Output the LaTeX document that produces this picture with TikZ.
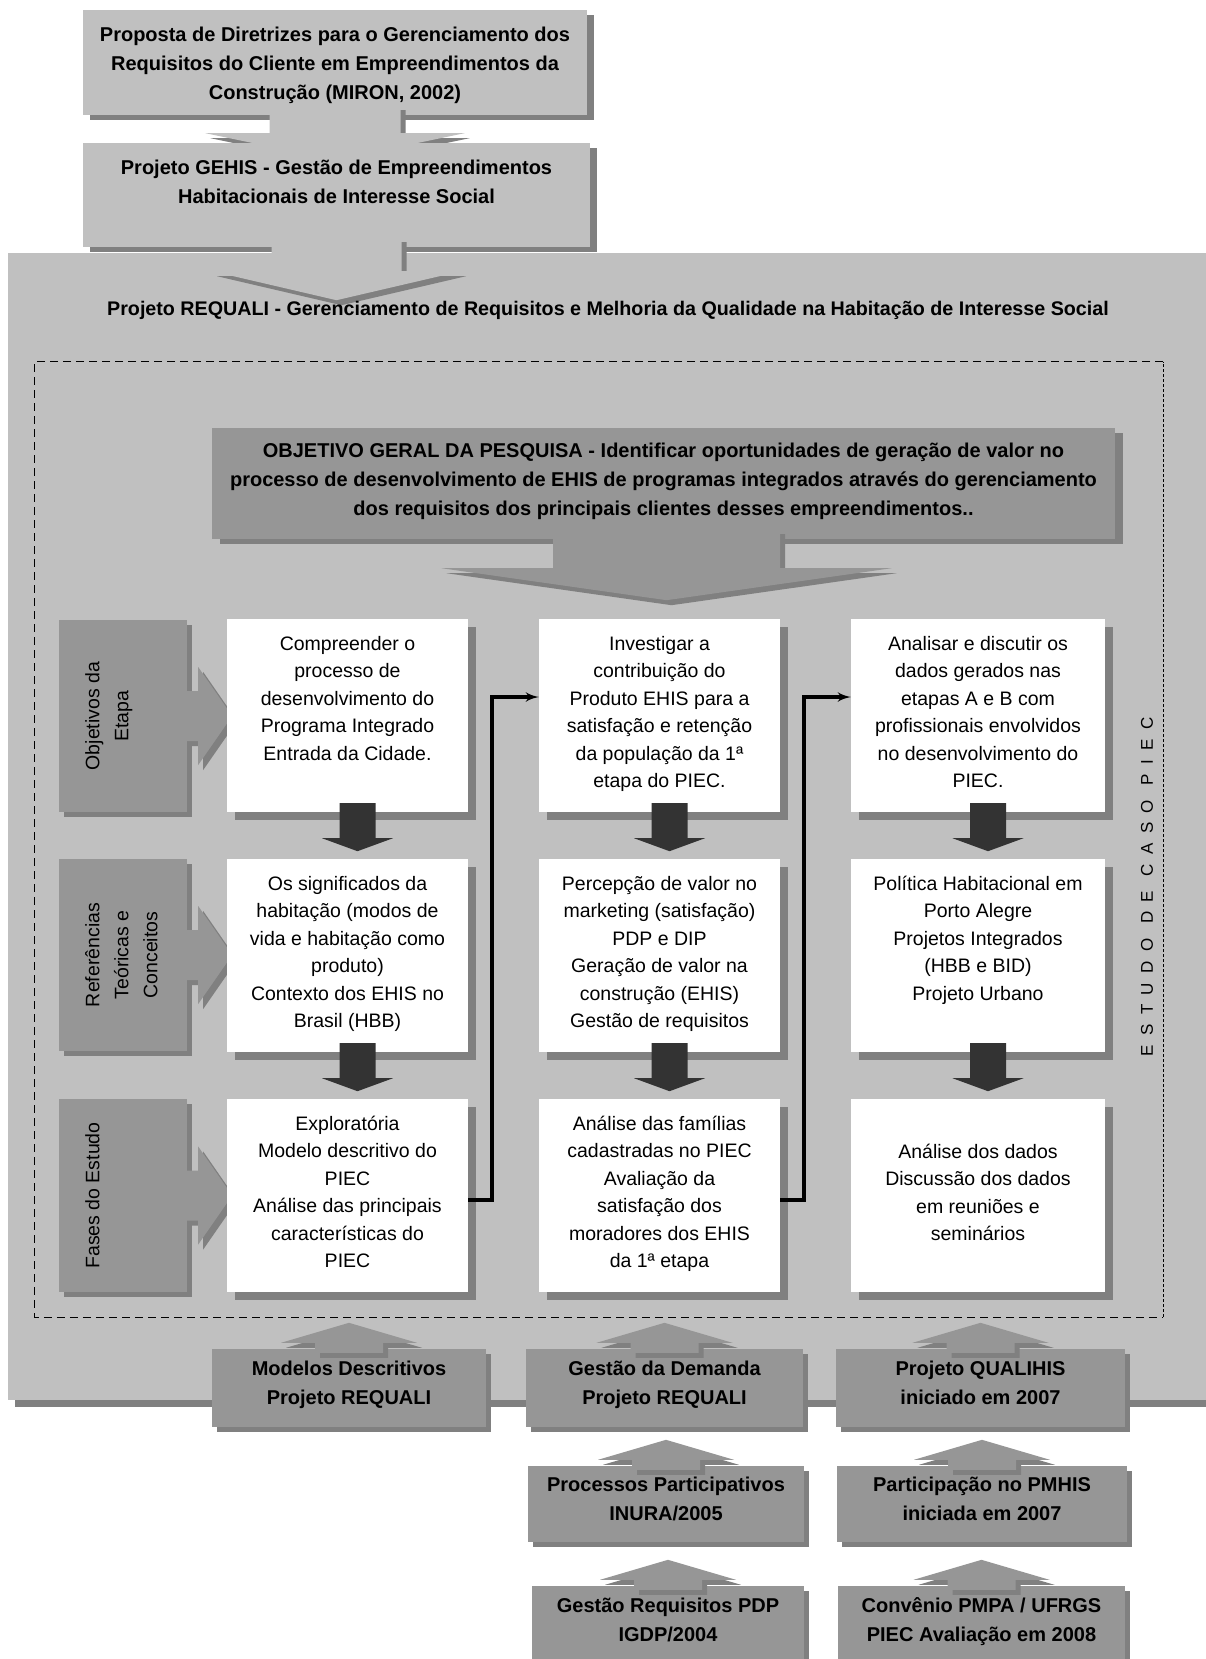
\documentclass[tikz,border=0pt]{standalone}
\usepackage{graphicx}
\usepackage{fontspec}
\setmainfont{Liberation Sans}
\newfontfamily\spacedfont[LetterSpace=56]{Liberation Sans}
\usetikzlibrary{shapes,arrows,shadows,calc}

\definecolor{boxgray}{HTML}{C0C0C0}
\definecolor{midgray}{HTML}{969696}
\definecolor{shadowgray}{HTML}{808080}
\definecolor{arrowdark}{HTML}{333333}

\newcommand{\txtnormal}{\fontsize{19.5pt}{27.5pt}\selectfont}
\newcommand{\txtlabel}{\fontsize{19.5pt}{29pt}\selectfont}
\newcommand{\txtbold}{\fontsize{20pt}{29pt}\selectfont\bfseries}
\newcommand{\txttitle}{\fontsize{19.7pt}{29pt}\selectfont\bfseries}
% text hung from the top of a box: width, height, top gap, text
\newcommand{\topbox}[4]{\parbox[c][#2][t]{#1}{\centering\vspace*{#3}\strut #4}}
% block arrows: style, start, tip, shaft half width, head half width, head length
\newcommand{\blockv}[6]{%
  \path[#1] let \p1=(#2), \p2=(#3) in
    ({\x2-#4},{\y1}) -- ({\x2+#4},{\y1}) -- ({\x2+#4},{\y2+(#6)})
    -- ({\x2+#5},{\y2+(#6)}) -- (\x2,\y2) -- ({\x2-#5},{\y2+(#6)})
    -- ({\x2-#4},{\y2+(#6)}) -- cycle;}
\newcommand{\blockh}[6]{%
  \path[#1] let \p1=(#2), \p2=(#3) in
    ({\x1},{\y2+#4}) -- ({\x1},{\y2-#4}) -- ({\x2-(#6)},{\y2-#4})
    -- ({\x2-(#6)},{\y2-#5}) -- (\x2,\y2) -- ({\x2-(#6)},{\y2+#5})
    -- ({\x2-(#6)},{\y2+#4}) -- cycle;}

\tikzstyle{bigblock} = [fill=boxgray, inner sep=0pt,
  drop shadow={shadow xshift=7pt, shadow yshift=-7pt, opacity=1, fill=shadowgray}]
\tikzstyle{topblock} = [fill=boxgray, inner sep=0pt, font=\txtbold,
  drop shadow={shadow xshift=7pt, shadow yshift=-5pt, opacity=1, fill=shadowgray}]
\tikzstyle{objblock} = [fill=midgray, inner sep=0pt, font=\txtbold,
  drop shadow={shadow xshift=8pt, shadow yshift=-5pt, opacity=1, fill=shadowgray}]
\tikzstyle{stepblock} = [fill=white, inner sep=0pt, font=\txtnormal,
  drop shadow={shadow xshift=8pt, shadow yshift=-8pt, opacity=1, fill=shadowgray}]
\tikzstyle{labelblock} = [fill=midgray, inner sep=0pt, font=\txtlabel,
  drop shadow={shadow xshift=5pt, shadow yshift=-5pt, opacity=1, fill=shadowgray}]
\tikzstyle{srcblock} = [fill=midgray, inner sep=0pt, font=\txtbold,
  drop shadow={shadow xshift=5pt, shadow yshift=-5pt, opacity=1, fill=shadowgray}]
\tikzstyle{fatarrow} = [fill=boxgray,
  drop shadow={shadow xshift=5pt, shadow yshift=-5pt, opacity=1, fill=shadowgray}]
\tikzstyle{grayarrow} = [fill=midgray,
  drop shadow={shadow xshift=5pt, shadow yshift=-5pt, opacity=1, fill=shadowgray}]
\tikzstyle{darkarrow} = [fill=arrowdark]
\tikzstyle{link} = [draw, line width=3.5pt, -latex']

\begin{document}
\begin{tikzpicture}[x=1pt, y=-1pt]
\useasboundingbox (0,0) rectangle (1205,1659);

% Background frame
\node [bigblock, minimum width=1207pt, minimum height=1147pt] (requali) at (611.5,826.5) {};

% Top boxes
\node [topblock] (miron) at (335,62.5) {\topbox{504pt}{105pt}{11pt}{Proposta de Diretrizes para o Gerenciamento dos\\Requisitos do Cliente em Empreendimentos da\\Construção (MIRON, 2002)}};
\blockv{fatarrow}{[yshift=10pt]miron.south}{[yshift=-45pt]miron.south}{65.5pt}{129.5pt}{27pt}
\node [topblock] (gehis) at (336.5,195) {\topbox{507pt}{104pt}{11pt}{Projeto GEHIS - Gestão de Empreendimentos\\Habitacionais de Interesse Social}};
\blockv{fatarrow}{[yshift=10pt]gehis.south}{[yshift=-53pt]gehis.south}{65pt}{124.5pt}{29pt}
\node [font=\txttitle] (reqtitle) at (608,310) {Projeto REQUALI - Gerenciamento de Requisitos e Melhoria da Qualidade na Habitação de Interesse Social};

% Case study frame
\node [minimum width=1128pt, minimum height=955pt, inner sep=0pt] (piecframe) at (599,839.5) {};
\draw [line width=1.3pt, dash pattern=on 8pt off 5pt] (piecframe.north east) -- (piecframe.north west) -- (piecframe.south west) -- (piecframe.south east);
\draw [line width=1.3pt, dash pattern=on 3pt off 2pt] (piecframe.south east) -- (piecframe.north east);
\node [rotate=90, font={\spacedfont\fontsize{17pt}{20pt}\selectfont}] (piec) at (1147,887) {ESTUDO DE CASO PIEC};

% General objective
\node [objblock] (objetivo) at (663.5,483.5) {\topbox{903pt}{111pt}{9pt}{OBJETIVO GERAL DA PESQUISA - Identificar oportunidades de geração de valor no\\processo de desenvolvimento de EHIS de programas integrados através do gerenciamento\\dos requisitos dos principais clientes desses empreendimentos..}};
\blockv{grayarrow}{[yshift=10pt]objetivo.south}{[xshift=3pt,yshift=-61pt]objetivo.south}{113.5pt}{225pt}{32pt}

% Row labels
\node [labelblock] (lblobj) at (123,716) {\rotatebox{90}{\topbox{192pt}{128pt}{20pt}{Objetivos da\\Etapa}}};
\node [labelblock] (lblref) at (123,955) {\rotatebox{90}{\topbox{192pt}{128pt}{20pt}{Referências\\Teóricas e\\Conceitos}}};
\node [labelblock] (lblfas) at (123,1195.5) {\rotatebox{90}{\topbox{193pt}{128pt}{20pt}{Fases do Estudo}}};
\foreach \l in {lblobj,lblref,lblfas}
  \blockh{grayarrow}{[xshift=-3pt]\l.east}{[xshift=45pt]\l.east}{25pt}{49pt}{34pt};

% Steps
\node [stepblock] (c1r1) at (347.5,715.5) {\topbox{241pt}{193pt}{11.75pt}{Compreender o\\processo de\\desenvolvimento do\\Programa Integrado\\Entrada da Cidade.}};
\node [stepblock] (c2r1) at (659.5,715.5) {\topbox{241pt}{193pt}{11.75pt}{Investigar a\\contribuição do\\Produto EHIS para a\\satisfação e retenção\\da população da 1ª\\etapa do PIEC.}};
\node [stepblock] (c3r1) at (978,715.5) {\topbox{254pt}{193pt}{11.75pt}{Analisar e discutir os\\dados gerados nas\\etapas A e B com\\profissionais envolvidos\\no desenvolvimento do\\PIEC.}};
\node [stepblock] (c1r2) at (347.5,955.5) {\topbox{241pt}{193pt}{11.75pt}{Os significados da\\habitação (modos de\\vida e habitação como\\produto)\\Contexto dos EHIS no\\Brasil (HBB)}};
\node [stepblock] (c2r2) at (659.5,955.5) {\topbox{241pt}{193pt}{11.75pt}{Percepção de valor no\\marketing (satisfação)\\PDP e DIP\\Geração de valor na\\construção (EHIS)\\Gestão de requisitos}};
\node [stepblock] (c3r2) at (978,955.5) {\topbox{254pt}{193pt}{11.75pt}{Política Habitacional em\\Porto Alegre\\Projetos Integrados\\(HBB e BID)\\Projeto Urbano}};
\node [stepblock] (c1r3) at (347.5,1195.5) {\topbox{241pt}{193pt}{11.75pt}{Exploratória\\Modelo descritivo do\\PIEC\\Análise das principais\\características do\\PIEC}};
\node [stepblock] (c2r3) at (659.5,1195.5) {\topbox{241pt}{193pt}{11.75pt}{Análise das famílias\\cadastradas no PIEC\\Avaliação da\\satisfação dos\\moradores dos EHIS\\da 1ª etapa}};
\node [stepblock] (c3r3) at (978,1195.5) {\topbox{254pt}{193pt}{40pt}{Análise dos dados\\Discussão dos dados\\em reuniões e\\seminários}};
\foreach \c in {c1,c2,c3}
  \foreach \r in {r1,r2}
    \blockv{darkarrow}{[xshift=10pt,yshift=9pt]\c\r.south}{[xshift=10pt,yshift=-39pt]\c\r.south}{18pt}{35.5pt}{13pt};

% Links between phases
\path [link] ([yshift=-4.5pt]c1r3.east) -- ++(24pt,0) |- ([yshift=18.5pt]c2r1.west);
\path [link] ([yshift=-4.5pt]c2r3.east) -- ++(24pt,0) |- ([yshift=18.5pt]c3r1.west);

% Sources
\node [srcblock] (modelos) at (349,1388) {\topbox{274pt}{78pt}{6pt}{Modelos Descritivos\\Projeto REQUALI}};
\node [srcblock] (demanda) at (664.5,1388) {\topbox{277pt}{78pt}{6pt}{Gestão da Demanda\\Projeto REQUALI}};
\node [srcblock] (qualihis) at (980.5,1388) {\topbox{289pt}{78pt}{6pt}{Projeto QUALIHIS\\iniciado em 2007}};
\node [srcblock] (processos) at (666,1504) {\topbox{276pt}{76pt}{5pt}{Processos Participativos\\INURA/2005}};
\node [srcblock] (pmhis) at (982,1504) {\topbox{290pt}{76pt}{5pt}{Participação no PMHIS\\iniciada em 2007}};
\node [srcblock] (igdp) at (668,1626) {\topbox{272pt}{80pt}{6pt}{Gestão Requisitos PDP\\IGDP/2004}};
\node [srcblock] (convenio) at (981.5,1626) {\topbox{287pt}{80pt}{6pt}{Convênio PMPA / UFRGS\\PIEC Avaliação em 2008}};
\foreach \s in {modelos,demanda,qualihis,processos,pmhis,igdp,convenio}
  \blockv{grayarrow}{[yshift=-4pt]\s.north}{[yshift=26pt]\s.north}{34pt}{68pt}{-20pt};
\end{tikzpicture}
\end{document}
